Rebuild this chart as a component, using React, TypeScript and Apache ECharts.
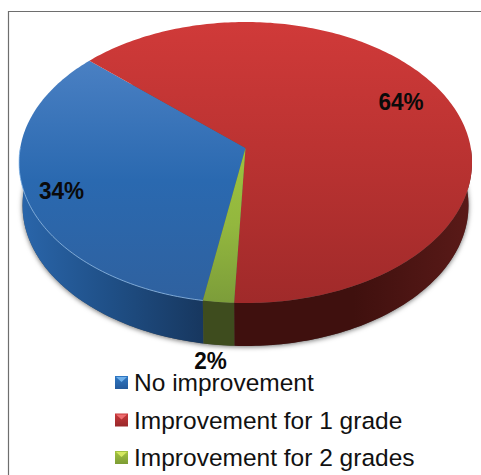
import React, { useEffect, useRef } from "react";
import * as echarts from "echarts";

const categories = ["No improvement", "Improvement for 1 grade", "Improvement for 2 grades"];
const percents = [34, 64, 2];

const FONT = '"Liberation Sans", Arial, sans-serif';
const START_DEG = 9.8;
const TOP = { cx: 245.5, cy: 162.5, rx: 226.5, ry: 140.5 };
const BOTTOM = { cx: 245.5, cy: 205.5, rx: 223, ry: 140.5 };
const TILT = 0.103;
const labelAnchors = [
  [61.5, 191],
  [401, 102],
  [210.5, 361],
];
const topColors = [
  ["#4a80c3", "#2a69b0", "#2f619f"],
  ["#d03a39", "#b93231", "#a02a2a"],
  ["#9cc23f", "#93b73e", "#7c9d3a"],
];
const wallColors = [
  ["#2a66ab", "#1f4f86", "#17375f"],
  ["#3f100e", "#3f100e", "#5a1a18"],
  ["#3e4c1e", "#3e4c1e", "#3e4c1e"],
];
const legendColors = [
  ["#2f78c4", "#245a9c"],
  ["#c8383a", "#98282a"],
  ["#a4c440", "#7c9c34"],
];
const legendBevel = ["#6fb0ea", "#ee6c6e", "#d4e860"];
const legendMarkerRows = [376, 413.5, 451];

function project(thetaDeg: number, e: typeof TOP) {
  const t = (thetaDeg * Math.PI) / 180;
  const x = -Math.sin(t);
  const y = Math.cos(t);
  const d = 1 - TILT * y;
  const px = (x * Math.sqrt(1 - TILT * TILT)) / d;
  const py = (y - TILT) / d;
  return [e.cx + px * e.rx, e.cy + py * e.ry];
}

function arc(a: number, b: number, e: typeof TOP) {
  const n = Math.max(2, Math.ceil(Math.abs(b - a)));
  const out: number[][] = [];
  for (let i = 0; i <= n; i++) out.push(project(a + ((b - a) * i) / n, e));
  return out;
}

function sliceRange(i: number) {
  let a = START_DEG;
  for (let k = 0; k < i; k++) a += (percents[k] / 100) * 360;
  return [a, a + (percents[i] / 100) * 360];
}

function frontRange(a: number, b: number): number[] | null {
  for (const shift of [0, 360]) {
    const lo = Math.max(a, shift - 90);
    const hi = Math.min(b, shift + 90);
    if (hi > lo) return [lo, hi];
  }
  return null;
}

function grad(horizontal: boolean, c: string[]) {
  return new echarts.graphic.LinearGradient(0, 0, horizontal ? 1 : 0, horizontal ? 0 : 1, [
    { offset: 0, color: c[0] },
    { offset: 0.5, color: c[1] },
    { offset: 1, color: c[2] },
  ]);
}

const renderWall = (params: any) => {
  const i = params.dataIndex;
  const [a, b] = sliceRange(i);
  const r = frontRange(a, b);
  if (!r) return { type: "group", children: [] };
  const pts = arc(r[0], r[1], TOP).concat(arc(r[1], r[0], BOTTOM));
  return { type: "polygon", shape: { points: pts }, style: { fill: grad(true, wallColors[i]) } };
};

const renderTop = (params: any, api: any) => {
  const i = params.dataIndex;
  const [a, b] = sliceRange(i);
  const apex = [TOP.cx, TOP.cy - TILT * TOP.ry];
  const pts = [apex].concat(arc(a, b, TOP));
  const children: any[] = [
    { type: "polygon", shape: { points: pts }, style: { fill: grad(false, topColors[i]) } },
  ];
  if (i === 0) {
    children.push({
      type: "polyline",
      shape: { points: arc(a, Math.min(b, 90), TOP) },
      style: { stroke: "rgba(150,195,240,0.75)", lineWidth: 1, fill: null },
    });
  }
  children.push({
    type: "text",
    x: labelAnchors[i][0],
    y: labelAnchors[i][1],
    scaleX: 0.94,
    style: {
      text: api.value(0) + "%",
      fill: "#0a0a0a",
      font: `bold 24px ${FONT}`,
      align: "center",
      verticalAlign: "middle",
    },
  });
  return { type: "group", children };
};

export default function App() {
  const ref = useRef<HTMLDivElement>(null);
  useEffect(() => {
    document.body.style.margin = "0";
    const chart = echarts.init(ref.current!, undefined, { renderer: "svg" });
    const values = percents.map((v) => [v]);
    chart.setOption({
      animation: false,
      backgroundColor: "#fff",
      legend: {
        orient: "vertical",
        left: 115,
        top: 369,
        padding: 0,
        height: 300,
        itemWidth: 13,
        itemHeight: 13,
        itemGap: 10.5,
        selectedMode: false,
        icon: "rect",
        data: categories,
        textStyle: { fontFamily: FONT, fontSize: 24.5, lineHeight: 24, color: "#111", padding: [0, 0, 3, 1] },
      },
      graphic: [
        {
          type: "ellipse",
          z: 0,
          silent: true,
          shape: { cx: BOTTOM.cx, cy: BOTTOM.cy, rx: BOTTOM.rx, ry: BOTTOM.ry },
          style: {
            fill: "#555",
            shadowBlur: 5,
            shadowColor: "rgba(0,0,0,0.55)",
            shadowOffsetY: 1,
          },
        },
        {
          type: "polyline",
          z: 0,
          silent: true,
          shape: { points: [[8.5, 475], [8.5, 11.5], [481, 11.5]] },
          style: { stroke: "#6e6e6e", lineWidth: 1.2, fill: null },
        },
        ...legendMarkerRows.map((y, i) => ({
          type: "polygon",
          z: 20,
          silent: true,
          shape: { points: [[116, y + 1], [127, y + 1], [121.5, y + 6]] },
          style: { fill: legendBevel[i] },
        })),
      ],
      series: [
        {
          type: "pie",
          radius: [0, 0],
          center: [-50, -50],
          silent: true,
          label: { show: false },
          labelLine: { show: false },
          data: categories.map((name, i) => ({
            name,
            value: percents[i],
            itemStyle: {
              color: new echarts.graphic.LinearGradient(0, 0, 0, 1, [
                { offset: 0, color: legendColors[i][0] },
                { offset: 1, color: legendColors[i][1] },
              ]),
            },
          })),
        },
        { type: "custom", coordinateSystem: "none", silent: true, z: 3, renderItem: renderWall, data: values },
        { type: "custom", coordinateSystem: "none", silent: true, z: 4, renderItem: renderTop, data: values },
      ],
    });
    return () => chart.dispose();
  }, []);
  return <div ref={ref} style={{ width: 481, height: 475, position: "fixed", left: 0, top: 0 }} />;
}
